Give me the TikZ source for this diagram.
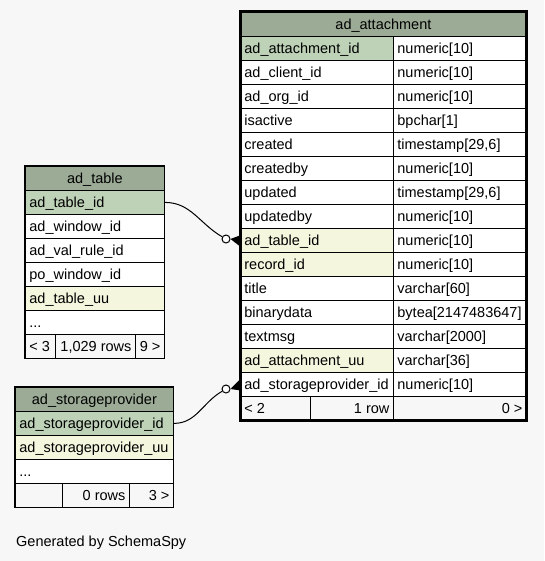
\documentclass[tikz,border=0pt]{standalone}
\usepackage{fontspec}
\setmainfont{Liberation Sans}
\usetikzlibrary{calc}
\definecolor{bg}{HTML}{F7F7F7}
\definecolor{hdr}{HTML}{9CAB96}
\definecolor{pk}{HTML}{BED2B8}
\definecolor{fk}{HTML}{F4F7DE}
\tikzset{
  cell/.style={draw=black, line width=0.8pt, inner xsep=4pt, inner ysep=0pt,
    minimum height=24pt, text height=10pt, text depth=0pt,
    font=\fontsize{14.5}{17}\selectfont},
  link/.style={draw=black, line width=1pt},
  odot/.style={circle, draw=black, line width=1pt, fill=white, minimum size=8pt, inner sep=0pt}
}
% name, x, y, width, fill, align(l/c/r), text
\newcommand{\cellnode}[7]{\node[cell,fill=#5,minimum width=#4pt,anchor=north west] (#1) at (#2,#3) {\makebox[\dimexpr#4pt-8pt\relax][#6]{#7}};}
% attachment row: index, y, name, namefill, type
\newcommand{\arow}[5]{\cellnode{a#1}{240}{#2}{153}{#4}{l}{#3}\cellnode{t#1}{393}{#2}{133}{white}{l}{#5}}
\begin{document}
\begin{tikzpicture}[x=1pt,y=-1pt]
\useasboundingbox[fill=bg] (0,0) rectangle (544,561);

% ad_attachment
\cellnode{ah}{240}{12}{286}{hdr}{c}{ad\_attachment}
\arow{0}{36}{ad\_attachment\_id}{pk}{numeric[10]}
\arow{1}{60}{ad\_client\_id}{white}{numeric[10]}
\arow{2}{84}{ad\_org\_id}{white}{numeric[10]}
\arow{3}{108}{isactive}{white}{bpchar[1]}
\arow{4}{132}{created}{white}{timestamp[29,6]}
\arow{5}{156}{createdby}{white}{numeric[10]}
\arow{6}{180}{updated}{white}{timestamp[29,6]}
\arow{7}{204}{updatedby}{white}{numeric[10]}
\arow{8}{228}{ad\_table\_id}{fk}{numeric[10]}
\arow{9}{252}{record\_id}{fk}{numeric[10]}
\arow{10}{276}{title}{white}{varchar[60]}
\arow{11}{300}{binarydata}{white}{bytea[2147483647]}
\arow{12}{324}{textmsg}{white}{varchar[2000]}
\arow{13}{348}{ad\_attachment\_uu}{fk}{varchar[36]}
\arow{14}{372}{ad\_storageprovider\_id}{white}{numeric[10]}
\cellnode{af1}{240}{396}{70}{bg}{l}{< 2}
\cellnode{af2}{310}{396}{83}{bg}{r}{1 row}
\cellnode{af3}{393}{396}{133}{bg}{r}{0 >}
\draw[line width=3pt] (ah.north west) rectangle (af3.south east);

% ad_table
\cellnode{th}{25}{166}{139}{hdr}{c}{ad\_table}
\cellnode{tr0}{25}{190}{139}{pk}{l}{ad\_table\_id}
\cellnode{tr1}{25}{214}{139}{white}{l}{ad\_window\_id}
\cellnode{tr2}{25}{238}{139}{white}{l}{ad\_val\_rule\_id}
\cellnode{tr3}{25}{262}{139}{white}{l}{po\_window\_id}
\cellnode{tr4}{25}{286}{139}{fk}{l}{ad\_table\_uu}
\cellnode{tr5}{25}{310}{139}{white}{l}{...}
\cellnode{tf1}{25}{334}{30}{bg}{l}{< 3}
\cellnode{tf2}{55}{334}{80}{bg}{r}{1,029 rows}
\cellnode{tf3}{135}{334}{29}{bg}{r}{9 >}
\draw[line width=1.2pt] (th.north west) rectangle (tf3.south east);

% ad_storageprovider
\cellnode{sh}{15}{387}{158}{hdr}{c}{ad\_storageprovider}
\cellnode{sr0}{15}{411}{158}{pk}{l}{ad\_storageprovider\_id}
\cellnode{sr1}{15}{435}{158}{fk}{l}{ad\_storageprovider\_uu}
\cellnode{sr2}{15}{459}{158}{white}{l}{...}
\cellnode{sf1}{15}{483}{47}{bg}{l}{}
\cellnode{sf2}{62}{483}{67}{bg}{r}{0 rows}
\cellnode{sf3}{129}{483}{44}{bg}{r}{3 >}
\draw[line width=1.2pt] (sh.north west) rectangle (sf3.south east);

% connectors
\node[odot] (c1) at (226,239) {};
\node[odot] (c2) at (226,389) {};
\draw[link] (tr0.east) to[out=0,in=150] (c1);
\draw[link] (sr0.east) to[out=0,in=210] (c2);
\fill (c1.east) -- ($(a8.west)+(0,-5)$) -- ($(a8.west)+(0,6)$) -- cycle;
\fill (c2.east) -- ($(a14.west)+(0,-5)$) -- ($(a14.west)+(0,6)$) -- cycle;

\node[font=\fontsize{14.5}{17}\selectfont, anchor=base west, inner sep=0pt] (gen) at (16,546) {Generated by SchemaSpy};
\end{tikzpicture}
\end{document}
